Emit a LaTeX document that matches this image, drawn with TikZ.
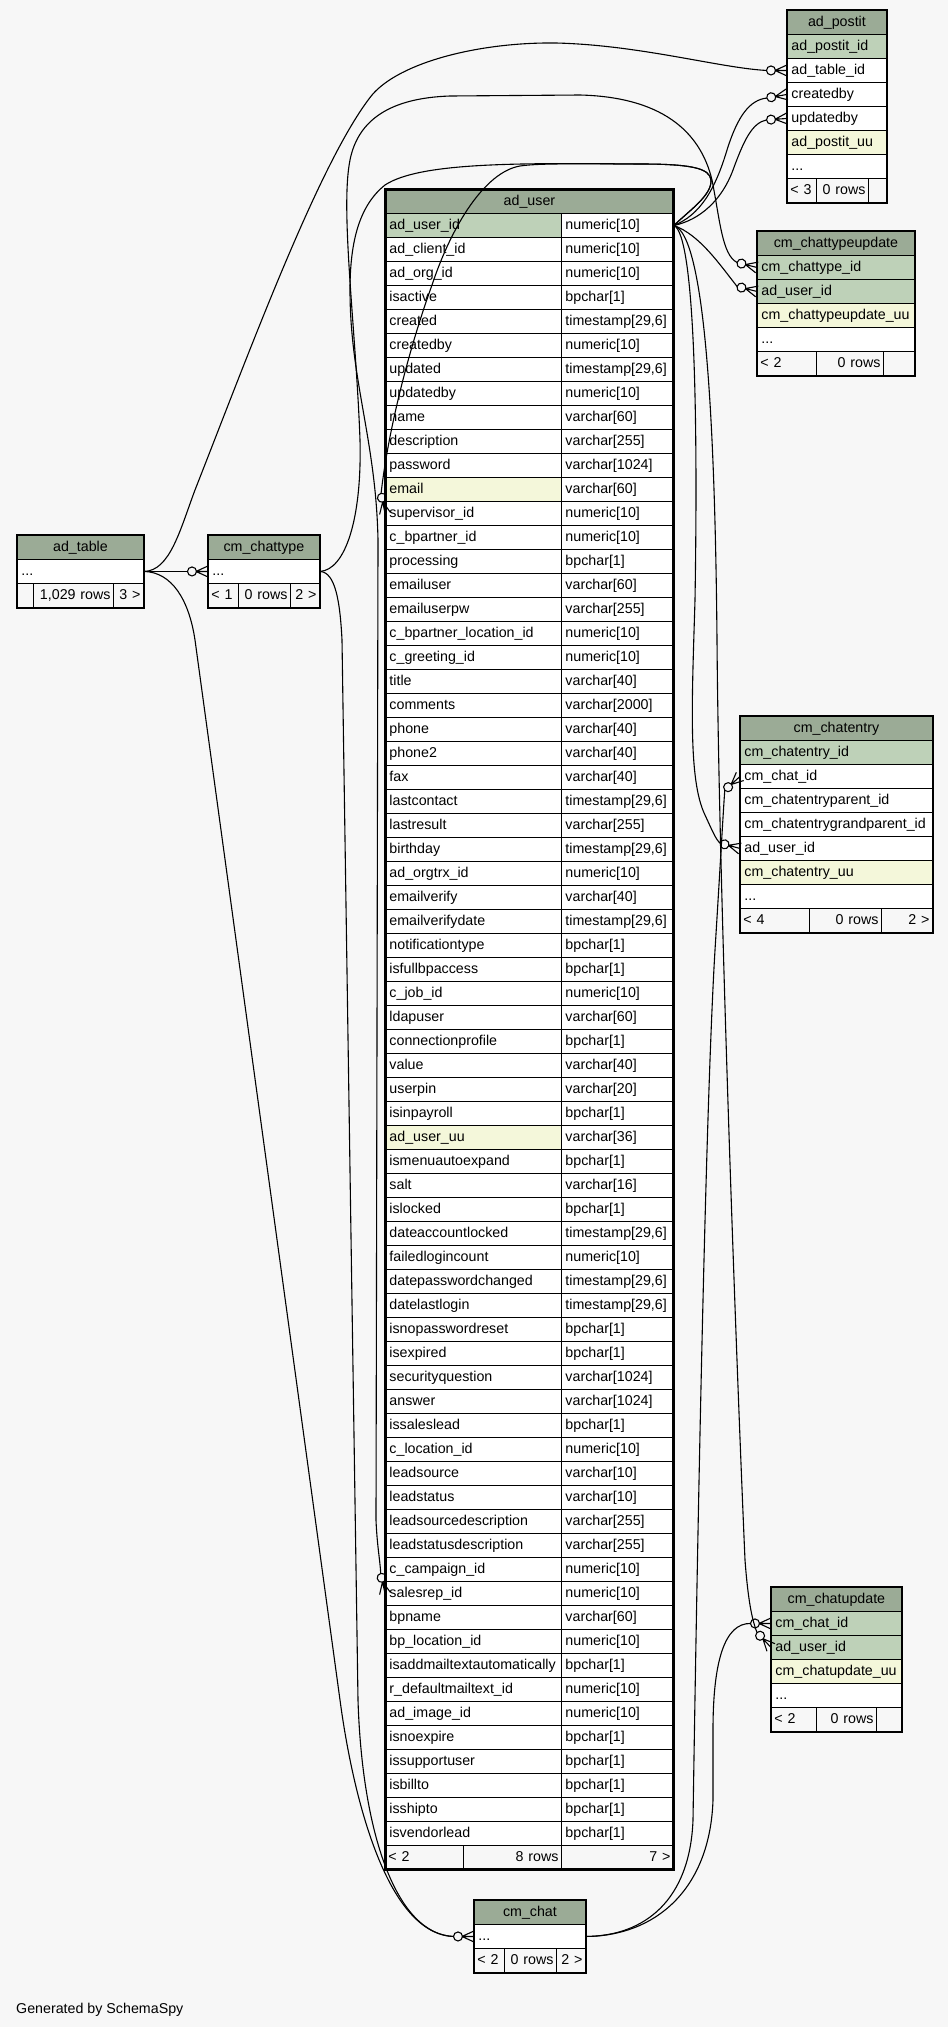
\documentclass[tikz,border=0pt]{standalone}
\usepackage{fontspec}
\setmainfont{Liberation Sans}
\usetikzlibrary{calc}
\definecolor{bgc}{HTML}{F7F7F7}
\definecolor{hdc}{HTML}{9BAB96}
\definecolor{pkc}{HTML}{BED1B8}
\definecolor{ixc}{HTML}{F4F7DA}
\definecolor{whc}{HTML}{FFFFFF}
\newcommand\tsx{timestamp[29,6]}
\newcommand\dotsx{...}
\tikzset{
 cell/.style={draw=black, line width=0.9pt, fill=whc, anchor=north west, inner xsep=4pt, inner ysep=0pt, minimum height=24pt, text height=10.6pt, text depth=3.5pt, align=left},
 ttl/.style={cell, fill=hdc, align=center},
 foot/.style={cell, fill=bgc, inner xsep=3pt},
 tb/.style={draw=black, line width=1.6pt},
 edge/.style={draw=black, line width=1.1pt},
 crowfoot/.pic={
   \draw[line width=1.1pt] (-16,0) circle[radius=4.5pt];
   \draw[line width=1.1pt] (-11.5,0) -- (0,0) (-12,0) -- (0,5.5) (-12,0) -- (0,-5.5);
   \coordinate (-end) at (-20.5,0);
 }
}
\begin{document}
\begin{tikzpicture}[x=1pt, y=-1pt, font=\fontsize{14.25pt}{16pt}\selectfont]
\fill[bgc] (0,0) rectangle (948,2027);
\useasboundingbox (0,0) rectangle (948,2027);

% ---------------- ad_postit
\node[ttl, text width=91pt] (pt0) at (787,10) {ad\_postit};
\foreach \nm/\cl [count=\i] in {ad\_postit\_id/pkc, ad\_table\_id/whc, createdby/whc, updatedby/whc, ad\_postit\_uu/ixc, \dotsx/whc}
  \node[cell, fill=\cl, text width=91pt] (pt\i) at (787,10+24*\i) {\nm};
\node[foot, text width=23pt] (ptf1) at (787,178) {\mbox{< 3}};
\node[foot, text width=46pt, align=right] (ptf2) at (816,178) {\mbox{0 rows}};
\node[foot, text width=12pt] (ptf3) at (868,178) {};
\draw[tb] (pt0.north west) rectangle (ptf3.south east);

% ---------------- cm_chattypeupdate
\node[ttl, text width=149pt] (cu0) at (757,231) {cm\_chattypeupdate};
\foreach \nm/\cl [count=\i] in {cm\_chattype\_id/pkc, ad\_user\_id/pkc, cm\_chattypeupdate\_uu/ixc, \dotsx/whc}
  \node[cell, fill=\cl, text width=149pt] (cu\i) at (757,231+24*\i) {\nm};
\node[foot, text width=53pt] (cuf1) at (757,351) {\mbox{< 2}};
\node[foot, text width=61pt, align=right] (cuf2) at (816,351) {\mbox{0 rows}};
\node[foot, text width=25pt] (cuf3) at (883,351) {};
\draw[tb] (cu0.north west) rectangle (cuf3.south east);

% ---------------- cm_chatentry
\node[ttl, text width=184pt] (ce0) at (740,716) {cm\_chatentry};
\foreach \nm/\cl [count=\i] in {cm\_chatentry\_id/pkc, cm\_chat\_id/whc, cm\_chatentryparent\_id/whc, cm\_chatentrygrandparent\_id/whc, ad\_user\_id/whc, cm\_chatentry\_uu/ixc, \dotsx/whc}
  \node[cell, fill=\cl, text width=184pt] (ce\i) at (740,716+24*\i) {\nm};
\node[foot, text width=63pt] (cef1) at (740,908) {\mbox{< 4}};
\node[foot, text width=66pt, align=right] (cef2) at (809,908) {\mbox{0 rows}};
\node[foot, text width=45pt, align=right] (cef3) at (881,908) {\mbox{2 >}};
\draw[tb] (ce0.north west) rectangle (cef3.south east);

% ---------------- cm_chatupdate
\node[ttl, text width=122pt] (cd0) at (771,1587) {cm\_chatupdate};
\foreach \nm/\cl [count=\i] in {cm\_chat\_id/pkc, ad\_user\_id/pkc, cm\_chatupdate\_uu/ixc, \dotsx/whc}
  \node[cell, fill=\cl, text width=122pt] (cd\i) at (771,1587+24*\i) {\nm};
\node[foot, text width=39pt] (cdf1) at (771,1707) {\mbox{< 2}};
\node[foot, text width=54pt, align=right] (cdf2) at (816,1707) {\mbox{0 rows}};
\node[foot, text width=19pt] (cdf3) at (876,1707) {};
\draw[tb] (cd0.north west) rectangle (cdf3.south east);

% ---------------- cm_chat
\node[ttl, text width=103pt] (ch0) at (474,1900) {cm\_chat};
\node[cell, text width=103pt] (ch1) at (474,1924) {\dotsx};
\node[foot, text width=24pt] (chf1) at (474,1948) {\mbox{< 2}};
\node[foot, text width=46pt, align=right] (chf2) at (504,1948) {\mbox{0 rows}};
\node[foot, text width=23pt, align=right] (chf3) at (556,1948) {\mbox{2 >}};
\draw[tb] (ch0.north west) rectangle (chf3.south east);

% ---------------- ad_table
\node[ttl, text width=118pt] (at0) at (17,535) {ad\_table};
\node[cell, text width=118pt] (at1) at (17,559) {\dotsx};
\node[foot, text width=10pt] (atf1) at (17,583) {};
\node[foot, text width=74pt, align=right] (atf2) at (33,583) {\mbox{1,029 rows}};
\node[foot, text width=24pt, align=right] (atf3) at (113,583) {\mbox{3 >}};
\draw[tb] (at0.north west) rectangle (atf3.south east);

% ---------------- cm_chattype
\node[ttl, text width=103pt] (ct0) at (208,535) {cm\_chattype};
\node[cell, text width=103pt] (ct1) at (208,559) {\dotsx};
\node[foot, text width=24pt] (ctf1) at (208,583) {\mbox{< 1}};
\node[foot, text width=46pt, align=right] (ctf2) at (238,583) {\mbox{0 rows}};
\node[foot, text width=23pt, align=right] (ctf3) at (290,583) {\mbox{2 >}};
\draw[tb] (ct0.north west) rectangle (ctf3.south east);

% ---------------- ad_user
\node[ttl, text width=280pt] (au0) at (385,189) {ad\_user};
\foreach \nm/\ty/\cl [count=\i] in {
 ad\_user\_id/numeric[10]/pkc, ad\_client\_id/numeric[10]/whc, ad\_org\_id/numeric[10]/whc,
 isactive/bpchar[1]/whc, created/\tsx/whc, createdby/numeric[10]/whc, updated/\tsx/whc,
 updatedby/numeric[10]/whc, name/varchar[60]/whc, description/varchar[255]/whc,
 password/varchar[1024]/whc, email/varchar[60]/ixc, supervisor\_id/numeric[10]/whc,
 c\_bpartner\_id/numeric[10]/whc, processing/bpchar[1]/whc, emailuser/varchar[60]/whc,
 emailuserpw/varchar[255]/whc, c\_bpartner\_location\_id/numeric[10]/whc,
 c\_greeting\_id/numeric[10]/whc, title/varchar[40]/whc, comments/varchar[2000]/whc,
 phone/varchar[40]/whc, phone2/varchar[40]/whc, fax/varchar[40]/whc, lastcontact/\tsx/whc,
 lastresult/varchar[255]/whc, birthday/\tsx/whc, ad\_orgtrx\_id/numeric[10]/whc,
 emailverify/varchar[40]/whc, emailverifydate/\tsx/whc, notificationtype/bpchar[1]/whc,
 isfullbpaccess/bpchar[1]/whc, c\_job\_id/numeric[10]/whc, ldapuser/varchar[60]/whc,
 connectionprofile/bpchar[1]/whc, value/varchar[40]/whc, userpin/varchar[20]/whc,
 isinpayroll/bpchar[1]/whc, ad\_user\_uu/varchar[36]/ixc, ismenuautoexpand/bpchar[1]/whc,
 salt/varchar[16]/whc, islocked/bpchar[1]/whc, dateaccountlocked/\tsx/whc,
 failedlogincount/numeric[10]/whc, datepasswordchanged/\tsx/whc, datelastlogin/\tsx/whc,
 isnopasswordreset/bpchar[1]/whc, isexpired/bpchar[1]/whc, securityquestion/varchar[1024]/whc,
 answer/varchar[1024]/whc, issaleslead/bpchar[1]/whc, c\_location\_id/numeric[10]/whc,
 leadsource/varchar[10]/whc, leadstatus/varchar[10]/whc, leadsourcedescription/varchar[255]/whc,
 leadstatusdescription/varchar[255]/whc, c\_campaign\_id/numeric[10]/whc,
 salesrep\_id/numeric[10]/whc, bpname/varchar[60]/whc, bp\_location\_id/numeric[10]/whc,
 isaddmailtextautomatically/bpchar[1]/whc, r\_defaultmailtext\_id/numeric[10]/whc,
 ad\_image\_id/numeric[10]/whc, isnoexpire/bpchar[1]/whc, issupportuser/bpchar[1]/whc,
 isbillto/bpchar[1]/whc, isshipto/bpchar[1]/whc, isvendorlead/bpchar[1]/whc}
{
  \node[cell, fill=\cl, text width=168pt] (au\i) at (385,189+24*\i) {\nm};
  \node[cell, text width=104pt] (aut\i) at (561,189+24*\i) {\ty};
}
\node[foot, text width=72pt] (auf1) at (385,1845) {\mbox{< 2}};
\node[foot, text width=92pt, align=right] (auf2) at (463,1845) {\mbox{8 rows}};
\node[foot, text width=106pt, align=right] (auf3) at (561,1845) {\mbox{7 >}};
\draw[draw=black, line width=3pt] (au0.north west) rectangle (auf3.south east);

\node[anchor=base west, inner sep=0pt] (gen) at (16,2013) {Generated by SchemaSpy};

% ---------------- crow's feet (child ends)
\pic (pat) at (pt2.west) {crowfoot};
\pic[rotate=10] (pcb) at (pt3.west) {crowfoot};
\pic[rotate=4] (pub) at (pt4.west) {crowfoot};
\pic[rotate=-14] (pq1) at (cu1.west) {crowfoot};
\pic[rotate=-14] (pq2) at (cu2.west) {crowfoot};
\pic[rotate=42] (pe2) at (ce2.west) {crowfoot};
\pic[rotate=-15] (pe5) at (ce5.west) {crowfoot};
\pic (pu1) at (cd1.west) {crowfoot};
\pic[rotate=-47] (pu2) at (cd2.west) {crowfoot};
\pic (pch) at (ch1.west) {crowfoot};
\pic (pct) at (ct1.west) {crowfoot};
\pic[rotate=-79] (psv) at (au13.west) {crowfoot};
\pic[rotate=-78] (psr) at (au58.west) {crowfoot};

% ---------------- connectors
% ad_table -> ad_postit.ad_table_id
\draw[edge] (at1.east) .. controls (170,571) and (180,530) .. (195,490)
  .. controls (250,350) and (320,160) .. (372,95)
  .. controls (400,62) and (480,42) .. (556,43)
  .. controls (640,45) and (720,68) .. (pat-end);
% ad_table -> cm_chattype
\draw[edge] (at1.east) -- (pct-end);
% ad_table -> cm_chat
\draw[edge] (at1.east) .. controls (172,572) and (189,600) .. (195,640)
  -- (340,1700) .. controls (352,1790) and (385,1934) .. (pch-end);
% cm_chattype -> cm_chat
\draw[edge] (ct1.east) .. controls (335,572) and (340,600) .. (342,640)
  -- (358,1700) .. controls (362,1830) and (395,1934) .. (pch-end);
% cm_chattype -> cm_chattypeupdate.cm_chattype_id
\draw[edge] (ct1.east) .. controls (345,570) and (362,520) .. (360,440)
  .. controls (356,330) and (340,210) .. (350,160)
  .. controls (358,120) and (390,98) .. (450,96)
  -- (580,95) .. controls (660,97) and (700,130) .. (712,180)
  .. controls (720,220) and (722,255) .. (pq1-end);
% ad_user -> ad_postit.createdby / updatedby
\draw[edge] (aut1.east) .. controls (700,215) and (715,190) .. (727,150)
  .. controls (738,115) and (750,100) .. (pcb-end);
\draw[edge] (aut1.east) .. controls (700,220) and (722,200) .. (733,170)
  .. controls (744,140) and (752,123) .. (pub-end);
% ad_user -> cm_chattypeupdate.ad_user_id
\draw[edge] (aut1.east) .. controls (700,235) and (720,265) .. (pq2-end);
% ad_user -> cm_chatentry.ad_user_id
\draw[edge] (aut1.east) .. controls (695,235) and (698,420) .. (695,600)
  .. controls (692,700) and (688,780) .. (705,815)
  .. controls (712,830) and (716,840) .. (pe5-end);
% ad_user -> cm_chatupdate.ad_user_id
\draw[edge] (aut1.east) .. controls (705,235) and (715,420) .. (717,640)
  .. controls (719,900) and (738,1400) .. (745,1560)
  .. controls (748,1600) and (752,1620) .. (pu2-end);
% ad_user -> ad_user.supervisor_id
\draw[edge] (aut1.east) .. controls (690,210) and (712,195) .. (711,180)
  .. controls (710,168) and (690,164) .. (640,164)
  .. controls (580,164) and (540,163) .. (520,166)
  .. controls (485,172) and (452,225) .. (432,285)
  .. controls (405,360) and (387,440) .. (psv-end);
% ad_user -> ad_user.salesrep_id
\draw[edge] (aut1.east) .. controls (690,210) and (712,195) .. (711,180)
  .. controls (710,168) and (690,164) .. (640,164)
  .. controls (520,163) and (420,162) .. (385,185)
  .. controls (360,205) and (350,240) .. (350,290)
  .. controls (350,380) and (376,440) .. (378,540)
  -- (376,1520) .. controls (377,1545) and (380,1560) .. (psr-end);
% cm_chat -> cm_chatentry.cm_chat_id
\draw[edge] (ch1.east) .. controls (645,1936) and (690,1900) .. (693,1820)
  .. controls (698,1500) and (706,1100) .. (715,950)
  .. controls (720,870) and (723,815) .. (pe2-end);
% cm_chat -> cm_chatupdate.cm_chat_id
\draw[edge] (ch1.east) .. controls (655,1936) and (710,1890) .. (713,1800)
  -- (713,1730) .. controls (713,1660) and (725,1623) .. (pu1-end);
\end{tikzpicture}
\end{document}
